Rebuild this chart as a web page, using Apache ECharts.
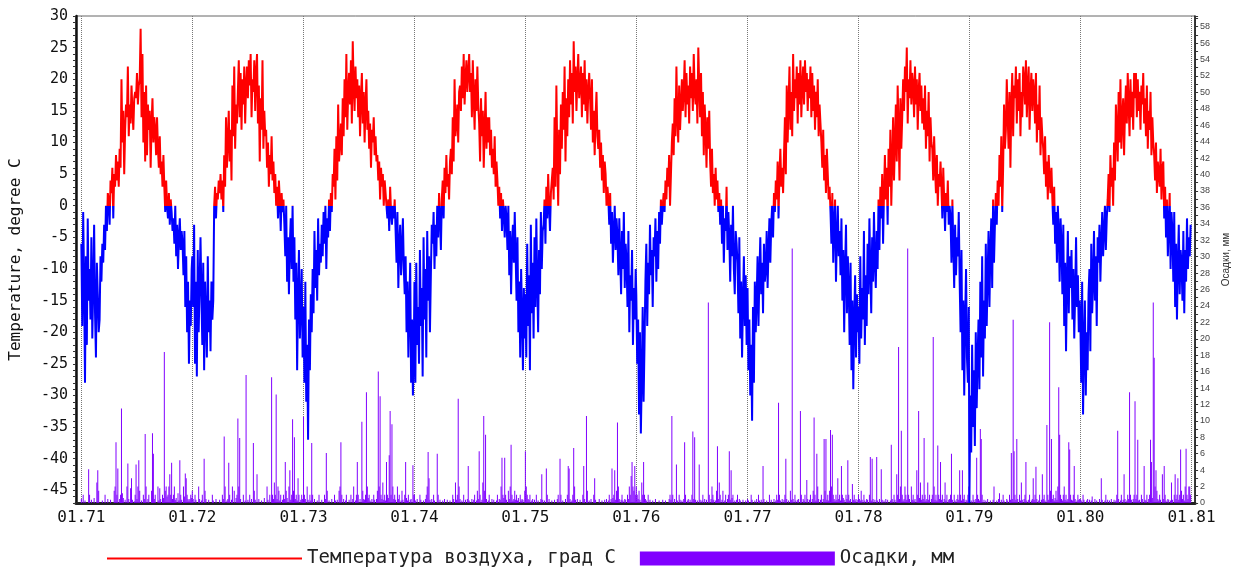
<!DOCTYPE html>
<html lang="ru">
<head>
    <meta charset="UTF-8">
    <title>Температура воздуха и осадки 1971-1980</title>
    <script src="https://cdn.jsdelivr.net/npm/echarts@6/dist/echarts.min.js"></script>
    <style>
        html, body { margin: 0; padding: 0; background: #fff; }
    </style>
</head>
<body>
    <div id="chart" style="width: 1239px; height: 570px;"></div>

    <script>
        // one value every 3 days, 122 values per year
        var STEP = 3;
        var years = [1971, 1972, 1973, 1974, 1975, 1976, 1977, 1978, 1979, 1980];

        // temperature, degree C
        var temp1971 = [-6,-19,-1,-12,-28,-8,-22,-2,-15,-10, -18,-5,-21,-13,-3,-17,-24,-9,-14,-20, -18,-8,-12,-6,-9,-3,-7,0,-4,2, 1,-3,4,2,6,-2,5,3,8,4,
            7,3,9,6,20,10,15,5,12,16, 14,22,11,16,13,19,15,12,17,18, 17,21,16,19,20,28,14,24,10,18,7, 19,8,16,12,15,6,13,17,10,14,
            12,8,14,9,6,11,5,7,3,8, 3,-1,4,0,-2,2,-3,1,-1,-4, -2,-6,0,-8,-3,-10,-5,-2,-7,-4, -6,-11,-4,-16,-8,-20,-12,-25,-15,-19,-10];
        var temp1972 = [-8,-16,-3,-25,-12,-27,-7,-20,-13,-5, -14,-22,-9,-26,-12,-18,-24,-8,-20,-15, -23,-12,-18,-15,0,3,-2,2,1,4, 2,5,1,4,-1,8,3,14,6,10,
            15,7,12,4,19,11,22,9,16,13, 18,23,14,21,12,20,16,22,13,19, 22,17,23,19,24,14,20,18,23,15,21, 24,13,19,7,17,12,23,9,15,11,
            12,6,10,3,8,5,11,4,7,2, 5,0,3,-2,4,1,-4,2,-1,1, -3,-8,0,-12,-5,-14,-6,-2,-10,0, -12,-5,-18,-9,-26,-14,-7,-21,-16,-10,-24];
        var temp1973 = [-16,-28,-12,-31,-22,-37,-18,-26,-14,-20, -10,-17,-4,-13,-7,-15,-2,-11,-6,-9, -3,-8,-1,-6,0,-10,-2,-5,1,-4, 2,-1,5,3,9,1,11,4,16,7,
            10,13,8,17,11,20,14,24,12,18, 21,16,23,13,26,19,15,22,17,20, 14,19,11,17,21,13,18,10,16,20,12, 15,9,13,6,12,10,14,8,11,7,
            8,4,7,1,6,3,5,0,4,2, 2,-2,1,-4,3,-1,-3,0,-2,1, -4,-9,-1,-13,-6,-3,-11,-7,-2,-10, -14,-8,-20,-12,-24,-16,-9,-28,-18,-30,-22];
        var temp1974 = [-12,-28,-9,-22,-16,-25,-7,-19,-13,-27, -5,-18,-10,-24,-4,-15,-8,-20,-11,-3, -6,-1,-10,-3,-8,0,-5,2,-2,-7, 1,4,-2,6,2,8,3,5,1,7,
            9,5,14,7,20,11,13,16,10,18, 19,15,22,17,24,16,20,23,18,21, 24,18,21,14,23,17,12,20,15,22,16, 13,7,17,11,15,6,12,18,9,14,
            10,14,8,12,6,9,5,11,3,7, 4,0,3,-2,2,-4,1,-1,-5,0, -2,-7,0,-11,-4,-14,-6,-3,-9,-1, -8,-15,-5,-20,-12,-24,-10,-17,-26,-13,-21];
        var temp1975 = [-14,-24,-6,-19,-11,-26,-3,-17,-9,-21, -5,-16,-2,-12,-20,-7,-14,-1,-10,-4, -3,1,-6,3,-2,5,0,-4,2,4, 6,1,14,3,19,8,0,12,5,16,
            9,18,12,22,7,17,11,20,14,23, 16,21,13,26,18,22,15,20,24,17, 19,22,14,21,16,23,15,20,13,18,21, 17,12,20,10,15,8,14,18,11,9,
            12,6,10,4,8,2,7,5,0,3, 1,-3,2,-6,-1,-9,-4,0,-7,-2, -5,-11,-2,-8,-14,-4,-10,-1,-13,-6, -9,-16,-4,-20,-11,-15,-7,-22,-13,-18,-10];
        var temp1976 = [-14,-25,-18,-33,-20,-36,-27,-16,-31,-22, -12,-6,-19,-9,-14,-3,-11,-7,-16,-5, -8,-2,-12,-4,-10,-1,-6,1,-3,0, 2,-1,4,1,6,3,8,0,5,10,
            13,8,17,11,22,14,10,19,12,16, 20,15,18,23,14,21,16,19,13,22, 17,21,15,24,18,16,20,13,25,19,14, 21,11,18,8,16,12,6,14,9,15,
            7,3,9,2,5,0,6,1,4,-1, 2,-3,1,-6,0,-9,-2,-4,3,-7, -1,-5,-12,-3,-8,0,-10,-14,-4,-6, -9,-17,-5,-21,-12,-24,-15,-8,-19,-11,-22];
        var temp1977 = [-13,-26,-18,-30,-22,-34,-16,-28,-12,-20, -15,-8,-19,-11,-5,-14,-9,-17,-6,-12, -10,-4,-13,-7,-2,-9,-3,0,-5,2, -1,4,1,7,-2,5,9,3,6,2,
            8,14,5,19,10,16,22,12,18,11, 24,15,20,17,22,13,21,16,23,14, 19,22,16,23,18,21,15,20,17,22,14, 21,15,19,12,18,14,20,11,16,13,
            10,6,12,4,8,2,9,5,1,3, -1,-6,2,-9,-3,1,-12,-5,0,-8, -4,-11,-2,-15,-7,-20,-10,-3,-17,-8, -13,-22,-9,-26,-15,-29,-18,-11,-24,-14,-20];
        var temp1978 = [-16,-25,-8,-21,-13,-18,-4,-22,-11,-19, -6,-14,-2,-10,-17,-5,-12,-1,-9,-13, -4,-10,1,-7,3,-2,5,-6,2,8, 1,6,-3,9,3,12,0,7,14,4,
            10,16,7,19,12,4,17,9,14,20, 15,22,18,25,13,20,17,23,16,21, 19,14,22,16,20,12,18,21,15,19,13, 17,12,19,9,15,11,18,7,14,10,
            9,4,11,6,2,8,0,5,3,7, 3,-2,6,1,-4,2,-1,4,-3,0, -2,-9,1,-6,-13,-3,-11,-5,-8,-1, -12,-20,-7,-26,-15,-30,-18,-10,-24,-28,-16];
        var temp1979 = [-47,-30,-39,-22,-35,-26,-38,-20,-32,-24, -18,-29,-12,-24,-8,-27,-15,-21,-6,-19, -11,-4,-16,-7,-2,-13,1,-9,-3,2, -3,4,0,8,3,11,-1,6,16,9,
            12,20,14,9,18,6,16,21,11,19, 17,22,13,20,15,21,11,18,14,22, 20,16,23,14,19,22,12,18,21,15,20, 18,13,21,10,16,12,19,8,14,11,
            9,5,11,3,7,1,8,4,2,6, 1,-3,3,-6,-1,-9,0,-4,-12,-2, -6,-14,-3,-19,-9,-23,-12,-4,-17,-8, -13,-7,-18,-10,-21,-14,-5,-16,-11,-20,-15];
        var temp1980 = [-18,-28,-12,-33,-22,-15,-30,-20,-26,-14, -10,-23,-6,-17,-12,-4,-15,-8,-19,-5, -9,-3,-12,-6,-1,-8,-4,0,-7,-2, 1,5,-1,8,3,6,0,10,4,16,
            12,7,18,10,20,9,14,17,8,15, 19,13,21,16,11,20,14,18,12,21, 17,21,14,20,15,18,12,19,16,21,13, 17,11,19,9,15,12,18,8,14,10,
            8,4,10,2,7,5,3,9,1,6, 7,-2,3,-5,1,-8,-3,2,-10,-1, -4,-12,-1,-16,-6,-18,-9,-3,-14,-7, -9,-15,-4,-17,-7,-12,-2,-10,-5,-8,-3];

        // precipitation, mm
        var prec1971 = [0.5,0,1,0,0.3,0,0,0,4.1,1, 0,0.4,0,0,0.6,0,0,2.5,4,1.5, 0,0,0,0.3,0,0,1,0,0,0.5, 0,0,0.4,0,0,0,1.5,2,7.4,1,
            4.2,0,0.5,1,11.5,1.2,0.6,0,0.4,0, 2,4.8,0.5,0,1.8,3,0.4,0,0.2,1, 4.7,0.5,2,5.2,1.5,0,0.3,0,1,0.5, 8.4,2,0,0.5,1,0,0,1.5,8.5,6,
            0.5,1,0,0,2,0.3,1.8,0.5,0,1, 0.6,18.4,1.5,2,0.8,1,2,3.5,1,4.9, 0.5,1,2,0.4,0.6,0,1.2,0.3,5.2,1, 0.4,0,2,0.8,3.6,3,1,0.5,0.3,0.5, 1,0.6];
        var prec1972 = [1.5,0.5,0,1,0.4,0,0,2,0.5,0, 0.3,1,0,5.4,1.5,0.5,0,0,0.4,0, 0,0,1,0.3,0,0,0.5,0,0,0, 0.4,0,0,1,0.5,8.1,2,0,0.3,0.5,
            4.9,1,0,0.4,2,0,1.5,0,0.6,1, 10.3,2,7.9,0.5,0,0,1,0,0.3,15.6, 0,0.4,0,1,0,0.5,0,7.3,1.5,0.4, 0,3.5,0,0.5,0,0,0.3,0,0,0.6,
            0,0,2,0.4,0,1,0,15.3,1,0.5, 2.5,1,13.2,0.5,2,1.5,0.3,1,0,0.4, 1,0.5,5,1.5,0.6,0,2,4,0.4,1, 10.2,1.5,8,0.5,1,0.3,3,1,0,0.4, 1,0.5];
        var prec1973 = [10.5,1,0.5,0,2,0.4,0,1,0.3,7.3, 1,0,0.5,0,0,0.3,0,1,0,0, 0.4,0,0,1,0.5,6.1,1.5,0,0.3,0, 0,0.5,0,0,1,0.3,0,0.4,0,1.5,
            2,7.4,1,0,0.5,0,0.3,1,0,0, 0.4,0,1,0,0.5,2,0,0.3,1,5, 1,0,0.5,0,9.9,1.5,0.5,0.4,1,13.5, 2,0.6,1,0.3,0,0.5,0,1,0.4,0,
            0.5,1.5,16,2,13,1,0.5,2.5,0.4,1, 0.3,5,1,0.6,5.8,11.2,1,9.6,2,0.5, 1,0.4,0,2,0.5,1,0,0.3,1.5,0.4, 0,1,5,0.6,0.3,1,0,0.4,0.5,0, 4.6,1];
        var prec1974 = [1,0.3,0,0.5,0,0,1,0.4,0,0, 0.3,0,0.5,1,2,6.2,3,0.4,0,0.5, 0,1,0.3,0,0,6,1,0,0.4,0, 0,0.3,0,0.5,0,0,0.4,0,0,0.3,
            0,0,1,0.5,0,2.5,0.4,1,12.7,2, 0.5,0,0.3,0,1,0,0.4,0,0.5,4.5, 0.3,0,0,0.5,0,0.4,1,0,0.3,1.5, 0.5,6.3,1,0,0.4,2.5,10.6,1.5,8.3,0.5,
            0,0.3,1,0,0,0.5,0,0.4,0,0, 0.3,1,0,0.5,0.4,2,5.5,1,0.6,5.5, 1,0.4,0,1.5,0.5,2,7.1,1,0.3,0.5, 1.5,0.4,1,0.3,0.6,0,1,0.3,0.5,0.4, 0,1.5];
        var prec1975 = [6.3,2,1,0.5,0.4,1,0,0.3,0.5,0, 0.4,0,1,0,0.3,0,0,0.5,3.5,0.4, 0,0.3,0,4.2,1,0,0.5,0,0,0.3, 0,0,0.4,0,0,0.5,1,0,5.4,1,
            0,0.3,0,0,0.5,0,1,4.5,4.2,0.5, 0,0.3,1,6.7,2,0.4,0,0.5,0,0, 0.4,0,0,1,4.5,0.5,0,10.6,1.5,0, 0.3,0,0.5,0,0,1,3,0.4,0,0,
            0,0.5,0,0,0.3,0,0,0.4,0,0.5, 0,0.3,1,0,0.5,4.2,0.6,1,4,0.4, 1.5,9.8,2,0.5,0,0.4,1,0.3,0,0.5, 0.4,0,1,0.5,2,1,3.3,5,2,1.5, 4.5,1];
        var prec1976 = [2,1,0.5,1.5,0.4,0,2.5,1,5,1, 0.5,0.3,0,1,0,0.4,0,0,0.3,0, 0,0.5,0,0,0,0.3,0,0,0,0.4, 0,0,0.3,0,0,0,0.5,1,0.4,10.6,
            1,0,0.5,0,4.7,0.3,0,1,0.4,0, 0.3,0,0.5,7.4,1,0,0.3,0.5,0,0.4, 0,1,8.7,0.5,8,0.4,0,0.3,0,4.7, 0.4,0,0.3,1,0,0.5,0,0.4,0,24.4,
            1,0,0.5,2,1,0.4,0,0.3,1.5,6.9, 0.5,2.5,1,0,0.4,1.5,0,0.3,1,0, 0.5,1,6.3,0.4,4,0.6,1,0,0.3,0, 0.4,1,0,0.5,0.3,0,0,0.4,0,0, 0.3,0];
        var prec1977 = [0.5,0.3,0,0,1,0.4,0,0,0.3,0, 0.5,0,1,0.3,0,0.4,0,4.5,0.5,0, 0,0.3,0,0,1,0,0.4,0,0,0.5, 0,0.3,1,0.4,12.2,1,0.3,0,0.5,0,
            0.4,1,5.4,0.5,0,0.3,0,1.5,0.4,31, 0.5,0,1,0.3,0,0.4,0.5,0,11.2,1, 0,0.5,0.3,1,0,2.8,0.5,0,0.4,1, 0,0.5,1.5,10.4,1,0.3,6,2,0.5,0,
            0.4,1,0,0.5,7.8,1.5,7.8,0.4,1,0.3, 1.5,8.9,2,8.3,1,0.5,0.3,1,0.4,3, 0.5,1,0.3,4.5,1,0.6,0.4,0,1,0.5, 5.2,1,0.3,0.5,0,2.3,0.4,1,0.3,0.5, 0,0.4];
        var prec1978 = [1,0.5,0.3,1.5,0.4,0,1,0.3,0,0.5, 0.4,0,1,5.6,0.3,5.4,0.5,0,0.4,0, 5.6,0.3,0,0.5,0,4.1,0.4,0,0.3,0, 0.5,0,0.4,0,0,0.3,7.1,0.5,0,1,
            0.4,0,3.5,1,19,0.5,2,8.8,1,0.3, 0.5,2,1,0.4,31,1,0.5,0,2,0.4, 1,0.3,0.5,0,4,1,11.2,0.6,2.5,0.4, 1,0.5,7.9,1,0.3,0.5,2.5,0.4,1,0,
            0.5,1,20.2,2,0.4,1,0.3,7,1,0.5, 5,0.4,1,0,0.5,2.5,0.3,1,0,0.4, 0.5,1,6,0.4,0,1,0.3,0,0.5,1, 0.4,4,1,0.3,4,0.5,1,0,0.4,0.3, 1,2];
        var prec1979 = [0.5,0,0.3,0,1,0.4,0,0.5,5.5,1, 0.5,0.3,9,7.8,1,0,0.4,0,0.3,0, 0.5,0,0,0.3,0,0,0.4,2,0,0, 0.3,0,0.5,1.2,0,0.4,0,1,0.3,0,
            0,0.5,0.3,0,1,0.4,6.1,0.5,22.3,6.3, 1,0.4,7.8,0.5,0,1,0.3,2.5,0.4,0, 0.5,1,5,0.3,0,0.4,1,0,0.3,0.5, 3,0.4,1,4.4,0.5,0,0.3,1,0,0.4,
            3.5,0.5,1,0.3,0,9.5,1,0.4,22,1.5, 7.8,0.5,1,0.3,0.6,1.5,0.4,2,14.1,8.3, 1,0.5,0.3,1,2,0.4,1,0.3,0.5,7.4, 6.5,1,0.4,0.3,1,4.5,0.5,0,0.3,1, 0.4,0.5];
        var prec1980 = [0.5,0.3,0,1,0.4,0,0,0.3,0.5,0, 0.4,0,0.3,0.8,0,0,0.5,0,0.3,0, 0,0.5,0,3,0.4,0,0,0.3,1,0, 0.4,0,0.3,0,0.5,0,0,0.4,0,0.3,
            1,8.8,0.5,0,0.3,1,0,0.4,3.5,0.5, 0,0.3,1,0.5,13.5,1,0.4,0,0.5,1, 12.4,0.5,1,7.7,0.3,0.4,0,1,0.5,0, 4.5,0.4,0.3,1,0,0.5,1,7.7,5,0.6,
            24.4,17.7,2,4,1.5,0.5,0.3,1,0.4,0, 3.5,0.5,4.5,1,0.3,0,0.5,0.4,0,0.3, 2.5,0.4,0,1,3.5,0.5,1,3,0.4,1, 6.5,1.5,0.5,1,0.3,2,6.6,1,0.5,2, 2,1];

        var tempByYear = [temp1971, temp1972, temp1973, temp1974, temp1975, temp1976, temp1977, temp1978, temp1979, temp1980];
        var precByYear = [prec1971, prec1972, prec1973, prec1974, prec1975, prec1976, prec1977, prec1978, prec1979, prec1980];

        function toSeries(arrays) {
            var out = [];
            arrays.forEach(function (arr, k) {
                arr.forEach(function (v, i) {
                    out.push([new Date(years[k], 0, 1 + STEP * i).getTime(), v]);
                });
            });
            return out;
        }

        var chart = echarts.init(document.getElementById('chart'));
        var mono = 'DejaVu Sans Mono';

        chart.setOption({
            animation: false,
            grid: {
                left: 73, right: 39, top: 16, bottom: 67,
                show: true, borderColor: '#666', borderWidth: 1
            },
            legend: {
                left: 107, top: 549,
                itemWidth: 195, itemHeight: 14, itemGap: 24,
                padding: 0,
                textStyle: { fontFamily: mono, fontSize: 19, color: '#222' },
                data: [
                    { name: 'Температура воздуха, град С', icon: 'path://M0,0 L195,0 L195,2 L0,2 Z', itemStyle: { color: '#ff0000' } },
                    { name: 'Осадки, мм', icon: 'rect' }
                ]
            },
            // red above zero, blue below
            visualMap: {
                show: false,
                type: 'piecewise',
                seriesIndex: 1,
                dimension: 1,
                pieces: [
                    { gt: -100, lt: 0, color: '#0000ff' },
                    { gte: 0, lte: 100, color: '#ff0000' }
                ],
                outOfRange: { color: '#0000ff' }
            },
            xAxis: {
                type: 'time',
                min: new Date(1970, 11, 16).getTime(),
                max: new Date(1981, 0, 11).getTime(),
                splitNumber: 10,
                minInterval: 365 * 86400000,
                maxInterval: 366 * 86400000,
                axisLine: { onZero: false, lineStyle: { color: '#222', width: 3 } },
                axisTick: { show: false },
                axisLabel: {
                    fontFamily: mono, fontSize: 16, color: '#111', margin: 7,
                    formatter: function (v) {
                        var d = new Date(v);
                        return ('0' + (d.getMonth() + 1)).slice(-2) + '.' + String(d.getFullYear()).slice(2);
                    }
                },
                splitLine: { show: true, lineStyle: { color: '#777', type: 'dotted', width: 1 } }
            },
            yAxis: [{
                type: 'value',
                min: -47, max: 30, interval: 1,
                name: 'Temperature, degree C',
                nameLocation: 'middle',
                nameGap: 52,
                nameTextStyle: { fontFamily: mono, fontSize: 16, color: '#111' },
                axisLine: { show: true, onZero: false, lineStyle: { color: '#111', width: 2.5 } },
                axisTick: { show: true, length: 3, lineStyle: { color: '#333' } },
                axisLabel: {
                    fontFamily: mono, fontSize: 15, color: '#111', margin: 8,
                    formatter: function (v) { return v % 5 === 0 ? String(v) : ''; }
                },
                splitLine: { show: false }
            }, {
                type: 'value',
                position: 'right',
                min: 0, max: 59.3, interval: 1,
                name: 'Осадки, мм',
                nameLocation: 'middle',
                nameRotate: 90,
                nameGap: 24,
                nameTextStyle: { fontFamily: 'Liberation Sans', fontSize: 10, color: '#333' },
                axisLine: { show: true, onZero: false, lineStyle: { color: '#111', width: 1.5 } },
                axisTick: { show: true, length: 3, lineStyle: { color: '#333' } },
                axisLabel: {
                    fontFamily: 'Liberation Sans', fontSize: 9, color: '#444', margin: 5,
                    formatter: function (v) { return v % 2 === 0 ? String(v) : ''; }
                },
                splitLine: { show: false }
            }],
            series: [{
                name: 'Осадки, мм',
                type: 'bar',
                yAxisIndex: 1,
                barWidth: 1,
                itemStyle: { color: '#8000ff' },
                data: toSeries(precByYear)
            }, {
                name: 'Температура воздуха, град С',
                type: 'line',
                yAxisIndex: 0,
                symbol: 'none',
                showSymbol: false,
                itemStyle: { color: '#ff0000' },
                lineStyle: { width: 2 },
                data: toSeries(tempByYear)
            }]
        });
    </script>
</body>
</html>
